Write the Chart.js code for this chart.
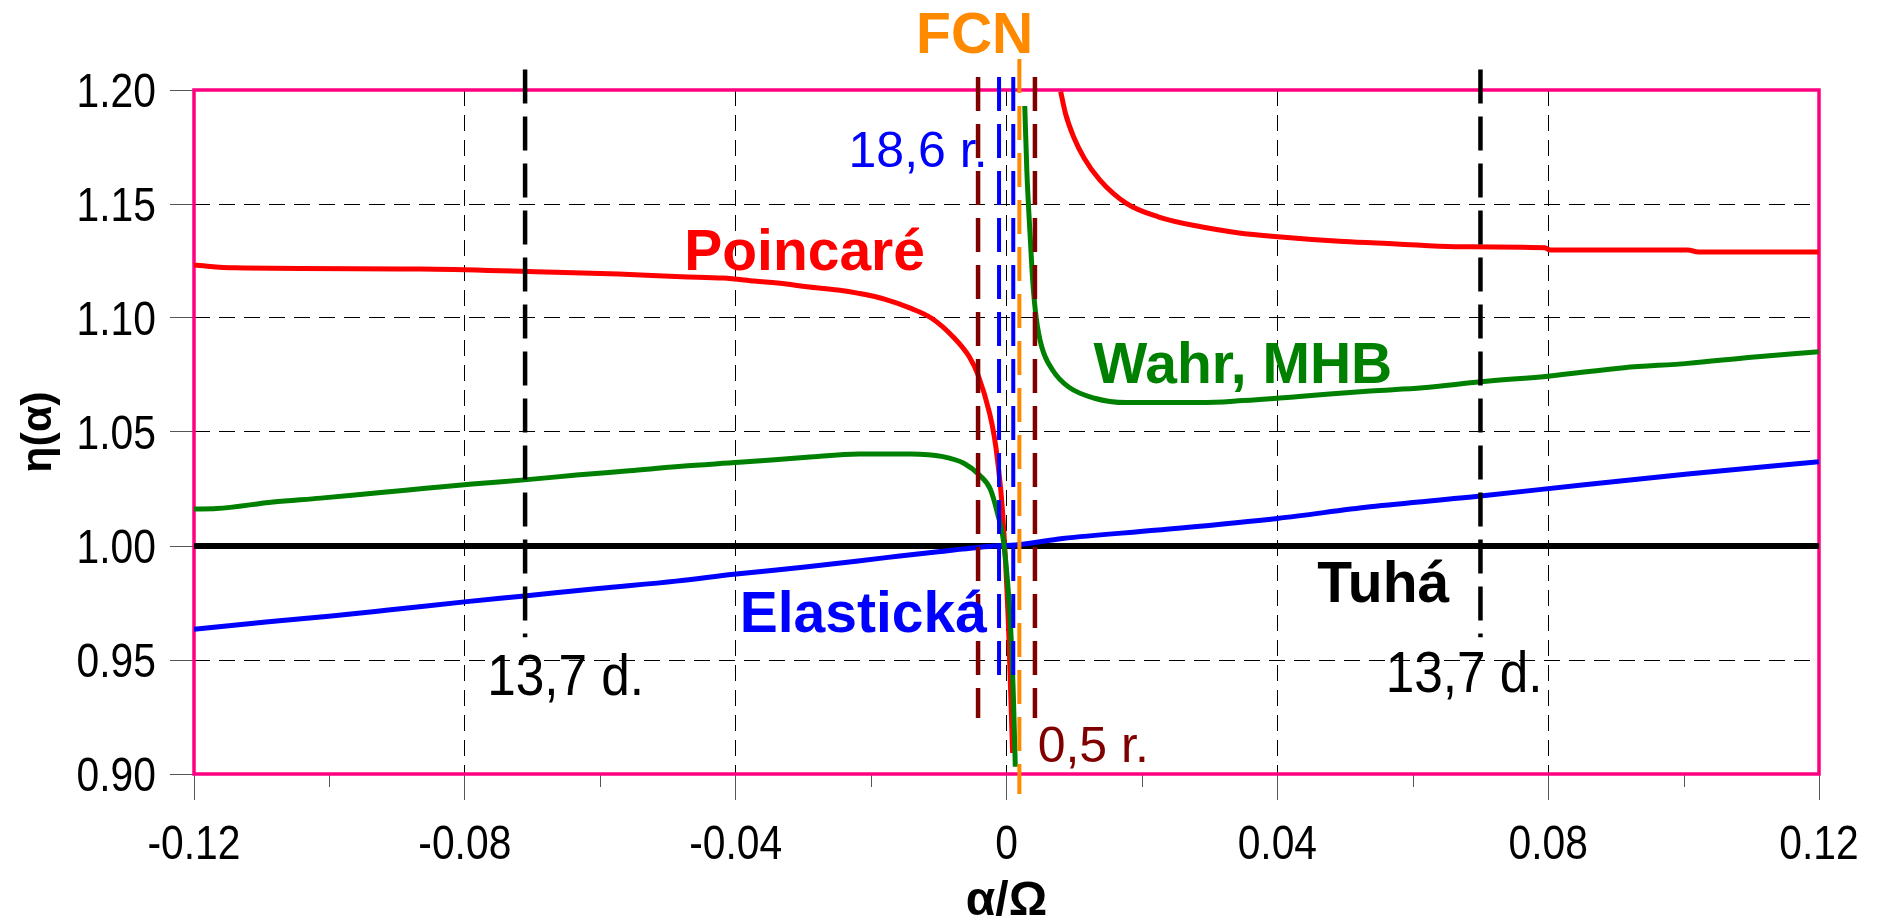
<!DOCTYPE html>
<html>
<head>
<meta charset="utf-8">
<title>eta(alpha)</title>
<script src="https://cdn.jsdelivr.net/npm/chart.js@4.4.1/dist/chart.umd.min.js"></script>
<style>
  html, body { margin: 0; padding: 0; background: #fff; }
  canvas { display: block; }
</style>
</head>
<body>
<canvas id="etaChart" width="1881" height="921"></canvas>
<script>
// axis ticks
const xTickValues = [-0.12, -0.08, -0.04, 0, 0.04, 0.08, 0.12];
const xMinorTicks = [-0.10, -0.06, -0.02, 0.02, 0.06, 0.10];
const yTickValues = [0.90, 0.95, 1.00, 1.05, 1.10, 1.15, 1.20];

// Poincaré model (red), two branches around the FCN resonance
const poincareLeftX = [-0.12, -0.114, -0.0866, -0.0696, -0.0573, -0.048, -0.0418, -0.0372, -0.0325, -0.0295, -0.0249, -0.0218, -0.0179, -0.0141, -0.011, -0.0079, -0.0055, -0.0042, -0.0025, -0.0018, -0.0013, -0.0006, 0.0003, 0.0009];
const poincareLeftY = [1.1232, 1.122, 1.1215, 1.1203, 1.1193, 1.1181, 1.1175, 1.1162, 1.1149, 1.1137, 1.1123, 1.1108, 1.1082, 1.1042, 1.0998, 1.0918, 1.083, 1.075, 1.0583, 1.048, 1.037, 1.0158, 0.9646, 0.9092];
const poincareRightX = [0.008, 0.0087, 0.0099, 0.0115, 0.0138, 0.0177, 0.0224, 0.0287, 0.0341, 0.0396, 0.0498, 0.0576, 0.0662, 0.0795, 0.0803, 0.1006, 0.1022, 0.12];
const poincareRightY = [1.1993, 1.1898, 1.1795, 1.17, 1.1605, 1.1503, 1.1444, 1.14, 1.1374, 1.1357, 1.1335, 1.1325, 1.1313, 1.1308, 1.1298, 1.1298, 1.129, 1.129];

// Wahr, MHB (green)
const wahrLeftX = [-0.12, -0.1167, -0.1083, -0.1013, -0.0928, -0.0858, -0.0789, -0.0712, -0.0635, -0.0557, -0.048, -0.0395, -0.0295, -0.0218, -0.0141, -0.0094, -0.0063, -0.004, -0.0024, -0.0013, -0.0004, 0.0006, 0.001, 0.0013];
const wahrLeftY = [1.0162, 1.0164, 1.0193, 1.021, 1.0234, 1.0253, 1.0272, 1.029, 1.0311, 1.033, 1.035, 1.0367, 1.0389, 1.0404, 1.0404, 1.0392, 1.0363, 1.0311, 1.025, 1.014, 1.0013, 0.9646, 0.9355, 0.9032];
const wahrRightX = [0.0027, 0.003, 0.0035, 0.0039, 0.0044, 0.0052, 0.0068, 0.0091, 0.013, 0.0177, 0.0287, 0.0349, 0.0428, 0.0537, 0.0615, 0.07, 0.0803, 0.0912, 0.1006, 0.11, 0.12];
const wahrRightY = [1.193, 1.1649, 1.1357, 1.1152, 1.0998, 1.0874, 1.0772, 1.0699, 1.0648, 1.0629, 1.0629, 1.0638, 1.0655, 1.068, 1.0694, 1.072, 1.0746, 1.0782, 1.0801, 1.0828, 1.0852];

// Elastic Earth (blue)
const elasticX = [-0.12, -0.109, -0.0997, -0.0913, -0.0797, -0.0712, -0.0603, -0.0488, -0.0403, -0.0294, -0.0178, -0.0101, -0.0013, 0.0013, 0.0083, 0.0224, 0.04, 0.0537, 0.07, 0.085, 0.1006, 0.12];
const elasticY = [0.9635, 0.9668, 0.9693, 0.9719, 0.9756, 0.9781, 0.9814, 0.9846, 0.9876, 0.9909, 0.9949, 0.9975, 1.0001, 1.0004, 1.0033, 1.007, 1.0121, 1.0172, 1.0219, 1.0268, 1.0316, 1.037];

// Rigid Earth (black)
const rigidX = [-0.12, 0.12];
const rigidY = [1.0, 1.0];

// vertical period markers: x positions and [top, bottom]
const fortnightX = [-0.0711, 0.0700];   // 13,7 d.
const fortnightY = [1.209, 0.96];
const halfYearX = [-0.0042, 0.0042];    // 0,5 r.
const halfYearY = [1.2057, 0.9246];
const nodalX = [-0.0011, 0.0010];       // 18,6 r.
const nodalY = [1.2057, 0.938];
const fcnX = [0.0019];                  // FCN
const fcnY = [1.2136, 0.8912];

// text labels (x, y = left/center/right edge and baseline, in data units)
const notes = [
  { text: 'FCN', x: -0.0047, y: 1.2162, color: '#ff8a00', weight: 'bold', size: 57, align: 'center', stretch: 1 },
  { text: '18,6 r.', x: -0.0028, y: 1.1662, color: '#0000ff', weight: 'normal', size: 50, align: 'right', stretch: 1 },
  { text: '0,5 r.', x: 0.0046, y: 0.9053, color: '#800000', weight: 'normal', size: 50, align: 'left', stretch: 1 },
  { text: 'Poincaré', x: -0.0476, y: 1.1211, color: '#ff0000', weight: 'bold', size: 57, align: 'left', stretch: 1 },
  { text: 'Wahr, MHB', x: 0.01285, y: 1.0715, color: '#008000', weight: 'bold', size: 57, align: 'left', stretch: 1 },
  { text: 'Elastická', x: -0.0394, y: 0.9623, color: '#0000ff', weight: 'bold', size: 57, align: 'left', stretch: 1 },
  { text: 'Tuhá', x: 0.0459, y: 0.9754, color: '#000000', weight: 'bold', size: 57, align: 'left', stretch: 1 },
  { text: '13,7 d.', x: -0.0767, y: 0.9346, color: '#000000', weight: 'normal', size: 57, align: 'left', stretch: 0.9 },
  { text: '13,7 d.', x: 0.0560, y: 0.9360, color: '#000000', weight: 'normal', size: 57, align: 'left', stretch: 0.9 }
];

const FONT = "'Liberation Sans', Arial, sans-serif";
const TICK_SIZE = 48;
const TICK_STRETCH = 0.85;

function pts(xs, ys) {
  return xs.map((x, i) => ({ x, y: ys[i] }));
}

function curve(xs, ys, color, width, order) {
  return {
    data: pts(xs, ys),
    borderColor: color,
    borderWidth: width,
    pointRadius: 0,
    showLine: true,
    cubicInterpolationMode: 'monotone',
    order
  };
}

function marker(x, ys, color, width, dash) {
  return {
    data: [{ x, y: ys[0] }, { x, y: ys[1] }],
    borderColor: color,
    borderWidth: width,
    borderDash: dash,
    borderCapStyle: 'butt',
    pointRadius: 0,
    showLine: true,
    clip: false,
    order: 0
  };
}

const datasets = [
  curve(rigidX, rigidY, '#000000', 6, 4),
  curve(poincareLeftX, poincareLeftY, '#ff0000', 5, 3),
  curve(poincareRightX, poincareRightY, '#ff0000', 5, 3),
  curve(elasticX, elasticY, '#0000ff', 5, 2),
  curve(wahrLeftX, wahrLeftY, '#008000', 5, 1),
  curve(wahrRightX, wahrRightY, '#008000', 5, 1)
];
fortnightX.forEach(x => datasets.push(marker(x, fortnightY, '#000000', 4.5, [34, 13])));
halfYearX.forEach(x => datasets.push(marker(x, halfYearY, '#800000', 4.5, [34, 13])));
nodalX.forEach(x => datasets.push(marker(x, nodalY, '#0000ff', 4, [34, 13])));
fcnX.forEach(x => datasets.push(marker(x, fcnY, '#ff8a00', 4, [34, 13])));

// text squeezed horizontally (the original uses a narrow face)
function drawText(ctx, text, x, y, align, stretch) {
  ctx.save();
  ctx.translate(x, y);
  ctx.scale(stretch, 1);
  ctx.textAlign = align;
  ctx.fillText(text, 0, 0);
  ctx.restore();
}

// pink frame, minor ticks, tick labels and text notes
const decor = {
  id: 'decor',
  beforeDatasetsDraw(chart) {
    const { ctx, chartArea: a, scales } = chart;
    ctx.save();
    ctx.strokeStyle = '#555';
    ctx.lineWidth = 1;
    xMinorTicks.forEach(v => {
      const px = Math.round(scales.x.getPixelForValue(v)) + 0.5;
      ctx.beginPath();
      ctx.moveTo(px, a.bottom);
      ctx.lineTo(px, a.bottom + 13);
      ctx.stroke();
    });
    ctx.strokeStyle = '#ff0080';
    ctx.lineWidth = 3.5;
    ctx.strokeRect(a.left, a.top, a.right - a.left, a.bottom - a.top);

    ctx.fillStyle = '#000';
    ctx.textBaseline = 'alphabetic';
    ctx.font = `${TICK_SIZE}px ${FONT}`;
    const capHalf = TICK_SIZE * 0.716 / 2;
    scales.x.ticks.forEach(t => {
      const label = String(Number(t.value.toFixed(2)));
      drawText(ctx, label, scales.x.getPixelForValue(t.value), a.bottom + 68 + capHalf, 'center', TICK_STRETCH);
    });
    scales.y.ticks.forEach(t => {
      drawText(ctx, t.value.toFixed(2), a.left - 38, scales.y.getPixelForValue(t.value) + capHalf, 'right', TICK_STRETCH);
    });
    ctx.restore();
  },
  afterDatasetsDraw(chart) {
    const { ctx, scales } = chart;
    ctx.save();
    ctx.textBaseline = 'alphabetic';
    notes.forEach(n => {
      ctx.font = `${n.weight} ${n.size}px ${FONT}`;
      ctx.fillStyle = n.color;
      drawText(ctx, n.text, scales.x.getPixelForValue(n.x), scales.y.getPixelForValue(n.y), n.align, n.stretch);
    });
    ctx.restore();
  }
};

Chart.defaults.font.family = FONT;
Chart.defaults.color = '#000';

new Chart(document.getElementById('etaChart').getContext('2d'), {
  type: 'scatter',
  data: { datasets },
  options: {
    responsive: false,
    animation: false,
    events: [],
    layout: { padding: { top: 90, right: 62, bottom: 0, left: 0 } },
    plugins: { legend: { display: false }, tooltip: { enabled: false } },
    scales: {
      x: {
        type: 'linear',
        min: -0.12,
        max: 0.12,
        afterFit: s => { s.height = 147; },
        afterBuildTicks: s => { s.ticks = xTickValues.map(v => ({ value: v })); },
        ticks: { display: false },
        grid: { color: '#000', lineWidth: 1, tickColor: '#555', tickLength: 26, tickWidth: 1 },
        border: { display: false, dash: [16, 9] },
        title: {
          display: true,
          text: 'α/Ω',
          font: { size: 48, weight: 'bold', lineHeight: 0.8 },
          padding: { top: 0, bottom: 0 }
        }
      },
      y: {
        min: 0.9,
        max: 1.2,
        afterFit: s => { s.width = 194; },
        afterBuildTicks: s => { s.ticks = yTickValues.map(v => ({ value: v })); },
        ticks: { display: false },
        grid: { color: '#000', lineWidth: 1, tickColor: '#555', tickLength: 24, tickWidth: 1 },
        border: { display: false, dash: [16, 9] },
        title: {
          display: true,
          text: 'η(α)',
          font: { size: 43, weight: 'bold', lineHeight: 1.2 },
          padding: { top: 13, bottom: 0 }
        }
      }
    }
  },
  plugins: [decor]
});
</script>
</body>
</html>
